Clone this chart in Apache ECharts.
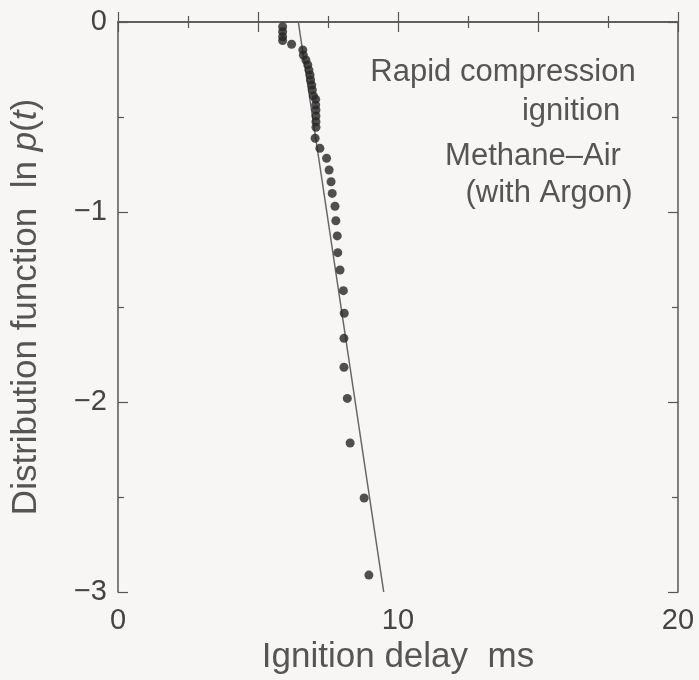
<!DOCTYPE html>
<html>
<head>
<meta charset="utf-8">
<script src="https://cdn.jsdelivr.net/npm/echarts@6/dist/echarts.min.js"></script>
<style>
html,body{margin:0;padding:0;background:#f8f6f5;}
#chart{width:699px;height:680px;}
</style>
</head>
<body>
<div id="chart"></div>
<script>
// Ignition delay (ms)
const delayMs = [5.88, 5.88, 5.88, 5.88, 6.20, 6.60, 6.62, 6.71, 6.78, 6.82, 6.86, 6.88, 6.92, 6.94, 6.98, 7.06, 7.06, 7.07, 7.07, 7.07, 7.07, 7.04, 7.21, 7.45, 7.54, 7.61, 7.65, 7.75, 7.78, 7.83, 7.85, 7.93, 8.05, 8.08, 8.07, 8.07, 8.19, 8.29, 8.79, 8.96];
// Distribution function ln p(t)
const lnP = [-0.025, -0.051, -0.077, -0.098, -0.117, -0.147, -0.174, -0.200, -0.226, -0.253, -0.279, -0.305, -0.332, -0.358, -0.389, -0.407, -0.437, -0.463, -0.495, -0.525, -0.554, -0.612, -0.665, -0.717, -0.779, -0.841, -0.902, -0.970, -1.046, -1.126, -1.214, -1.305, -1.414, -1.533, -1.665, -1.817, -1.981, -2.216, -2.505, -2.911];
// Fitted straight line
const fitX = [6.44, 9.49];
const fitY = [0, -3];
const annotationLines = ['Rapid compression', 'ignition', 'Methane\u2013Air', '(with Argon)'];

const FONT = '"Liberation Sans", Arial, Helvetica, sans-serif';
const AX = '#555';
const fmtMinus = v => String(v).replace('-', '\u2212');

const chart = echarts.init(document.getElementById('chart'), null, {renderer: 'canvas'});

const baseX = {
  type: 'value', min: 0, max: 20, interval: 5,
  axisLine: {show: true, lineStyle: {color: AX, width: 1.5}},
  axisTick: {show: true, inside: true, length: 10, lineStyle: {color: AX, width: 1.2}},
  minorTick: {show: true, splitNumber: 2, length: 6, lineStyle: {color: AX, width: 1.2}},
  splitLine: {show: false}
};
const baseY = {
  type: 'value', min: -3, max: 0, interval: 1,
  axisLine: {show: true, onZero: false, lineStyle: {color: AX, width: 1.5}},
  axisTick: {show: true, inside: true, length: 10, lineStyle: {color: AX, width: 1.2}},
  minorTick: {show: true, splitNumber: 2, length: 6, lineStyle: {color: AX, width: 1.2}},
  splitLine: {show: false}
};

const annGraphics = [];
const annX = [503, 571, 533, 549];
const annY = [72, 111, 156, 193];
annotationLines.forEach((t, i) => {
  annGraphics.push({
    type: 'text', x: annX[i], y: annY[i],
    style: {text: t, font: '31px ' + FONT, fill: '#555', textAlign: 'center', textVerticalAlign: 'middle'}
  });
});

chart.setOption({
  backgroundColor: '#f8f6f5',
  animation: false,
  grid: {left: 118, top: 22, width: 560, height: 570, containLabel: false},
  xAxis: [
    Object.assign({}, baseX, {
      position: 'bottom',
      name: 'Ignition delay  ms', nameLocation: 'middle', nameGap: 42,
      nameTextStyle: {fontFamily: FONT, fontSize: 35, color: '#555'},
      axisLabel: {
        show: true, margin: 14, fontFamily: FONT, fontSize: 29, color: '#444',
        formatter: v => (v % 10 === 0 ? fmtMinus(v) : '')
      }
    }),
    Object.assign({}, baseX, {position: 'top', axisLabel: {show: false}})
  ],
  yAxis: [
    Object.assign({}, baseY, {
      position: 'left',
      name: '{n|Distribution function  ln }{i|p}{n|(}{i|t}{n|)}',
      nameLocation: 'middle', nameGap: 74, nameRotate: 90,
      nameTextStyle: {
        fontFamily: FONT, fontSize: 35, color: '#555',
        rich: {
          n: {fontFamily: FONT, fontSize: 35, color: '#555'},
          i: {fontFamily: FONT, fontSize: 35, color: '#555', fontStyle: 'italic'}
        }
      },
      axisLabel: {show: true, margin: 11, fontFamily: FONT, fontSize: 29, color: '#444', formatter: v => fmtMinus(v)}
    }),
    Object.assign({}, baseY, {position: 'right', axisLabel: {show: false}})
  ],
  series: [
    {
      type: 'line', xAxisIndex: 0, yAxisIndex: 0,
      data: fitX.map((x, i) => [x, fitY[i]]),
      showSymbol: false, symbol: 'none',
      lineStyle: {color: '#666', width: 1.5},
      z: 2
    },
    {
      type: 'scatter', xAxisIndex: 0, yAxisIndex: 0,
      data: delayMs.map((x, i) => [x, lnP[i]]),
      symbol: 'circle', symbolSize: 9,
      itemStyle: {color: '#262626'},
      z: 3
    }
  ],
  graphic: annGraphics
});
</script>
</body>
</html>
